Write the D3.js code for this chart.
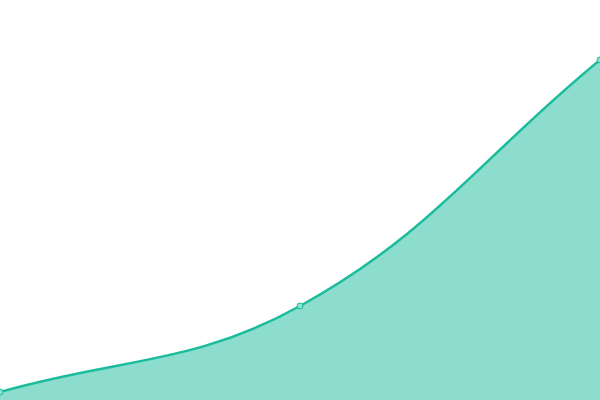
<!DOCTYPE html>
<html><head><meta charset="utf-8">
<script src="https://cdn.jsdelivr.net/npm/d3@7"></script>
<style>html,body{margin:0;padding:0;background:#fff;overflow:hidden}</style>
</head><body>
<svg id="c" width="600" height="400"></svg>
<script>
const categories = [0, 1, 2];
const values = [2, 23.5, 85];

const W = 600, H = 400;
const svg = d3.select("#c");
const x = d3.scaleLinear().domain([0, 2]).range([0, W]);
const y = d3.scaleLinear().domain([0, 100]).range([H, 0]);
const data = categories.map((c, i) => ({c, v: values[i]}));

// tension-based spline curve (control points from neighbouring points)
function TensionCurve(context, t) { this._context = context; this._t = t; }
TensionCurve.prototype = {
  areaStart() { this._line = 0; },
  areaEnd() { this._line = NaN; },
  lineStart() { this._pts = []; },
  point(px, py) { this._pts.push([+px, +py]); },
  lineEnd() {
    const p = this._pts, n = p.length, c = this._context, t = this._t;
    if (n) {
      this._line ? c.lineTo(p[0][0], p[0][1]) : c.moveTo(p[0][0], p[0][1]);
      const cps = p.map((cur, i) => {
        const prev = p[Math.max(i - 1, 0)], next = p[Math.min(i + 1, n - 1)];
        const d01 = Math.hypot(cur[0] - prev[0], cur[1] - prev[1]);
        const d12 = Math.hypot(next[0] - cur[0], next[1] - cur[1]);
        let s01 = d01 / (d01 + d12), s12 = d12 / (d01 + d12);
        if (isNaN(s01)) s01 = 0; if (isNaN(s12)) s12 = 0;
        const fa = t * s01, fb = t * s12;
        return {
          prev: [cur[0] - fa * (next[0] - prev[0]), cur[1] - fa * (next[1] - prev[1])],
          next: [cur[0] + fb * (next[0] - prev[0]), cur[1] + fb * (next[1] - prev[1])]
        };
      });
      for (let i = 1; i < n; i++) {
        c.bezierCurveTo(cps[i-1].next[0], cps[i-1].next[1], cps[i].prev[0], cps[i].prev[1], p[i][0], p[i][1]);
      }
    }
    if (this._line || (this._line !== 0 && n === 1)) c.closePath();
    this._line = 1 - this._line;
  }
};
const curve = ctx => new TensionCurve(ctx, 0.4);

const area = d3.area().x(d => x(d.c)).y0(y(0)).y1(d => y(d.v)).curve(curve);
const line = d3.line().x(d => x(d.c)).y(d => y(d.v)).curve(curve);

svg.append("path").datum(data).attr("d", area).attr("fill", "#1abc9c").attr("fill-opacity", 0.5);
svg.append("path").datum(data).attr("d", line).attr("fill", "none").attr("stroke", "#1abc9c").attr("stroke-width", 2.5);
svg.selectAll("circle").data(data).join("circle")
  .attr("cx", d => x(d.c)).attr("cy", d => y(d.v)).attr("r", 3)
  .attr("fill", "#8ce0cf").attr("stroke", "#1abc9c").attr("stroke-width", 1);
</script>
</body></html>
